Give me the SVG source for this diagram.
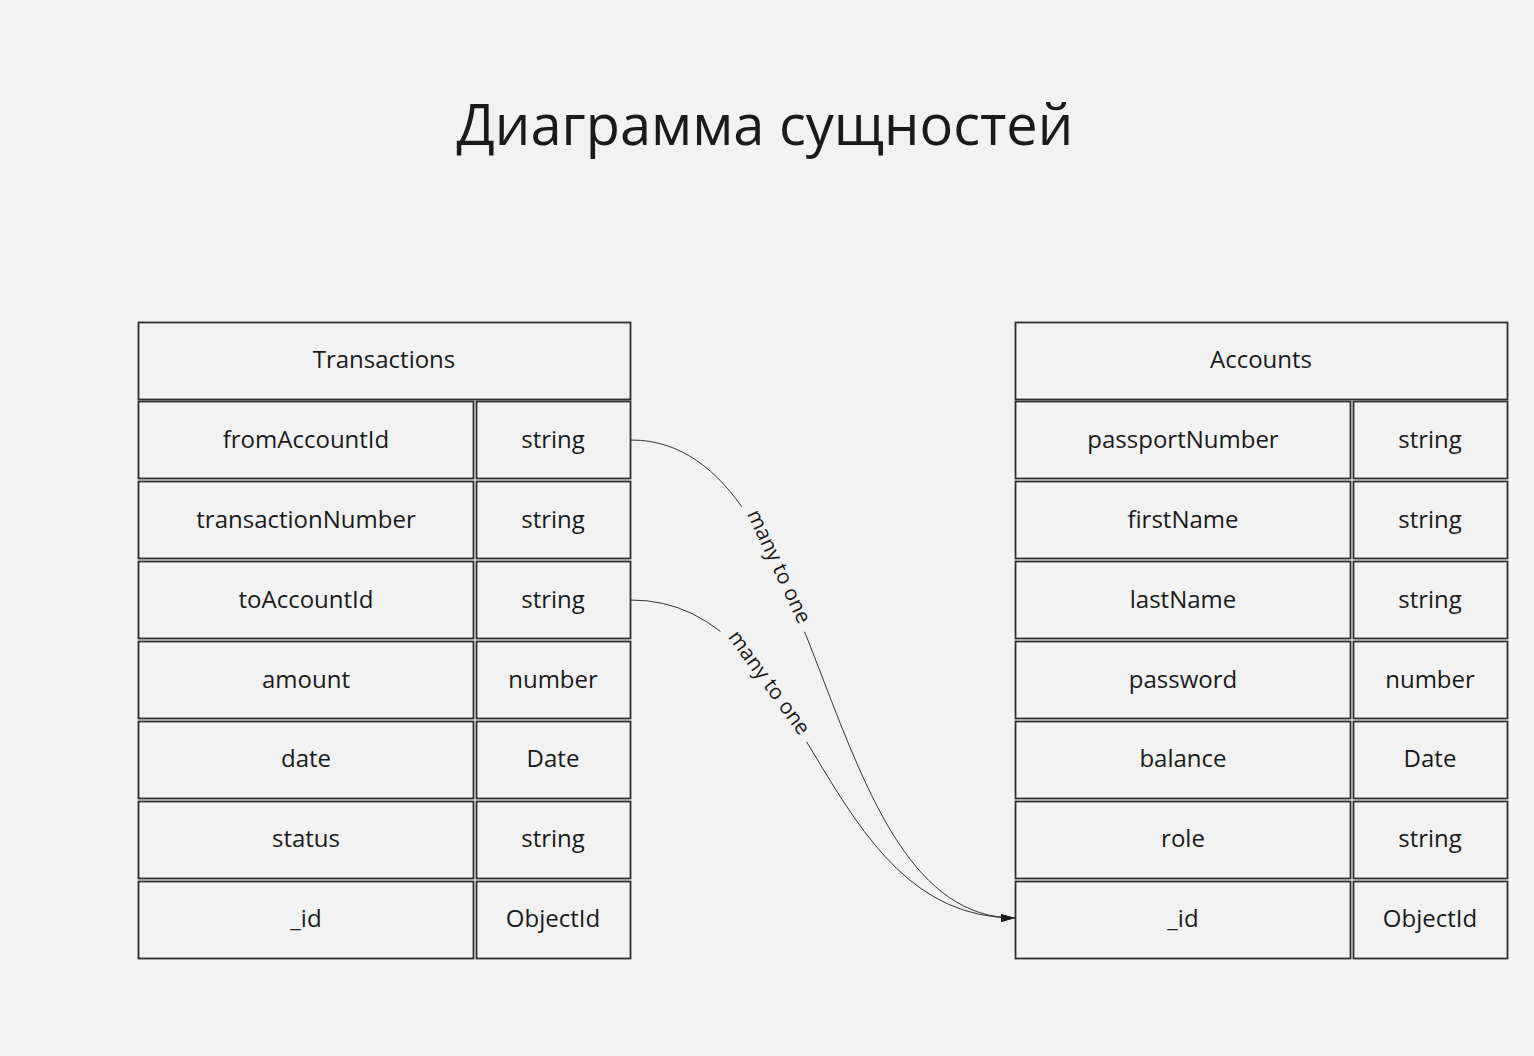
<svg xmlns="http://www.w3.org/2000/svg" width="1534" height="1056" viewBox="0 0 1534 1056">
<defs>
<style>
.bg{fill:#f2f2f2}
.cell{fill:#f2f2f2;stroke:#2e2e2e;stroke-width:1.8}
.t{font-family:"Open Sans","Liberation Sans",sans-serif;font-size:24px;fill:#1a1a1a;text-anchor:middle;dominant-baseline:central}
.h{font-size:24px}
.title{font-family:"Open Sans","Liberation Sans",sans-serif;font-size:56px;fill:#1a1a1a;text-anchor:middle}
.conn{fill:none;stroke:#333;stroke-width:1}
.lbl{font-family:"Open Sans","Liberation Sans",sans-serif;font-size:21px;fill:#1a1a1a;text-anchor:middle;dominant-baseline:central}
</style>
<marker id="arrow" viewBox="0 0 14 8" refX="14" refY="4" markerWidth="14" markerHeight="8" markerUnits="userSpaceOnUse" orient="auto">
<path d="M0,0 L14,4 L0,8 Z" fill="#1a1a1a"/>
</marker>
</defs>
<rect class="bg" x="0" y="0" width="1534" height="1056"/>
<text class="title" x="765" y="145">Диаграмма сущностей</text>

<g id="transactions">
<rect class="cell" x="138.5" y="322.5" width="492" height="77"/>
<text class="t h" x="384" y="358">Transactions</text>
<rect class="cell" x="138.5" y="401.5" width="335" height="77"/><rect class="cell" x="476.5" y="401.5" width="154" height="77"/>
<text class="t" x="306" y="438">fromAccountId</text><text class="t" x="553" y="438">string</text>
<rect class="cell" x="138.5" y="481.5" width="335" height="77"/><rect class="cell" x="476.5" y="481.5" width="154" height="77"/>
<text class="t" x="306" y="518">transactionNumber</text><text class="t" x="553" y="518">string</text>
<rect class="cell" x="138.5" y="561.5" width="335" height="77"/><rect class="cell" x="476.5" y="561.5" width="154" height="77"/>
<text class="t" x="306" y="598">toAccountId</text><text class="t" x="553" y="598">string</text>
<rect class="cell" x="138.5" y="641.5" width="335" height="77"/><rect class="cell" x="476.5" y="641.5" width="154" height="77"/>
<text class="t" x="306" y="678">amount</text><text class="t" x="553" y="678">number</text>
<rect class="cell" x="138.5" y="721.5" width="335" height="77"/><rect class="cell" x="476.5" y="721.5" width="154" height="77"/>
<text class="t" x="306" y="757">date</text><text class="t" x="553" y="757">Date</text>
<rect class="cell" x="138.5" y="801.5" width="335" height="77"/><rect class="cell" x="476.5" y="801.5" width="154" height="77"/>
<text class="t" x="306" y="837">status</text><text class="t" x="553" y="837">string</text>
<rect class="cell" x="138.5" y="881.5" width="335" height="77"/><rect class="cell" x="476.5" y="881.5" width="154" height="77"/>
<text class="t" x="306" y="917">_id</text><text class="t" x="553" y="917">ObjectId</text>
</g>

<g id="accounts">
<rect class="cell" x="1015.5" y="322.5" width="492" height="77"/>
<text class="t h" x="1261" y="358">Accounts</text>
<rect class="cell" x="1015.5" y="401.5" width="335" height="77"/><rect class="cell" x="1353.5" y="401.5" width="154" height="77"/>
<text class="t" x="1183" y="438">passportNumber</text><text class="t" x="1430" y="438">string</text>
<rect class="cell" x="1015.5" y="481.5" width="335" height="77"/><rect class="cell" x="1353.5" y="481.5" width="154" height="77"/>
<text class="t" x="1183" y="518">firstName</text><text class="t" x="1430" y="518">string</text>
<rect class="cell" x="1015.5" y="561.5" width="335" height="77"/><rect class="cell" x="1353.5" y="561.5" width="154" height="77"/>
<text class="t" x="1183" y="598">lastName</text><text class="t" x="1430" y="598">string</text>
<rect class="cell" x="1015.5" y="641.5" width="335" height="77"/><rect class="cell" x="1353.5" y="641.5" width="154" height="77"/>
<text class="t" x="1183" y="678">password</text><text class="t" x="1430" y="678">number</text>
<rect class="cell" x="1015.5" y="721.5" width="335" height="77"/><rect class="cell" x="1353.5" y="721.5" width="154" height="77"/>
<text class="t" x="1183" y="757">balance</text><text class="t" x="1430" y="757">Date</text>
<rect class="cell" x="1015.5" y="801.5" width="335" height="77"/><rect class="cell" x="1353.5" y="801.5" width="154" height="77"/>
<text class="t" x="1183" y="837">role</text><text class="t" x="1430" y="837">string</text>
<rect class="cell" x="1015.5" y="881.5" width="335" height="77"/><rect class="cell" x="1353.5" y="881.5" width="154" height="77"/>
<text class="t" x="1183" y="917">_id</text><text class="t" x="1430" y="917">ObjectId</text>
</g>

<g id="connectors">
<path class="conn" d="M631,440 C831,440 815,918 1015,918" marker-end="url(#arrow)"/>
<path class="conn" d="M631,600 C815,600 815,918 1015,918" marker-end="url(#arrow)"/>
<g transform="translate(780,566) rotate(65)">
<rect class="bg" x="-70" y="-12" width="140" height="24"/>
<text class="lbl" x="0" y="0">many to one</text>
</g>
<g transform="translate(770,682) rotate(54)">
<rect class="bg" x="-70" y="-12" width="140" height="24"/>
<text class="lbl" x="0" y="0">many to one</text>
</g>
</g>
</svg>
